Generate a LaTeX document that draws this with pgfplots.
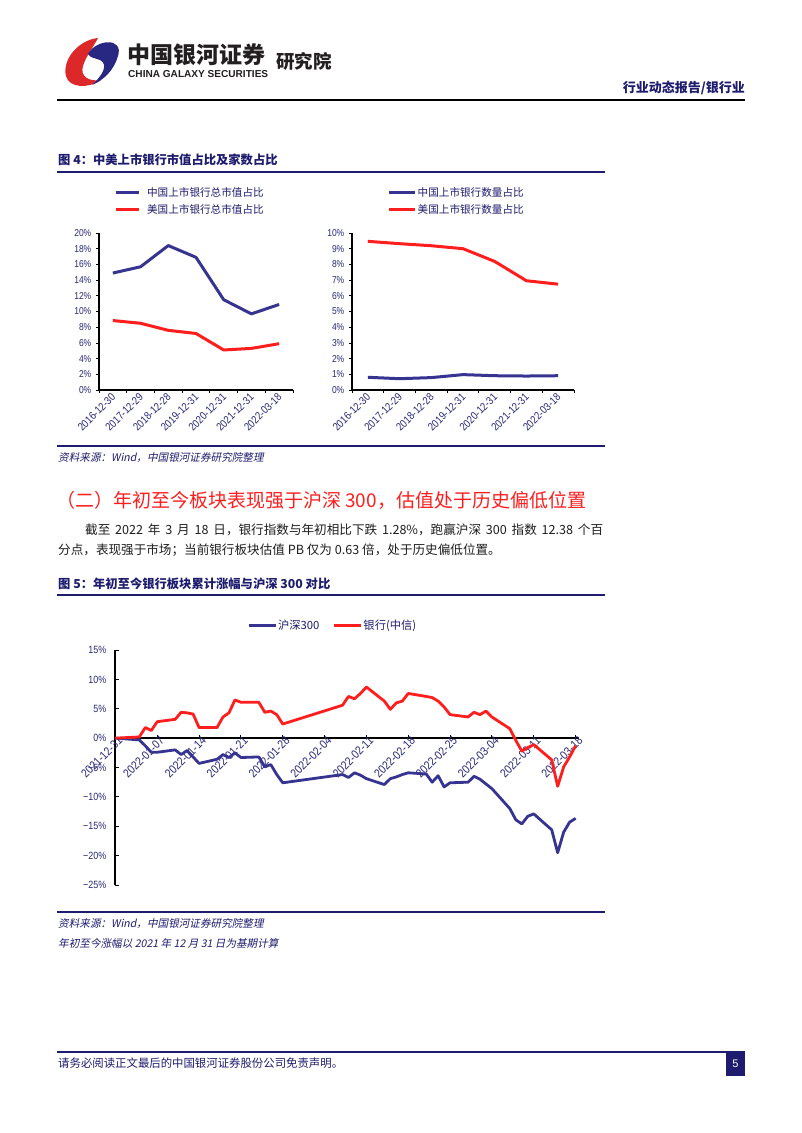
\documentclass[border=0pt]{standalone}
\usepackage{pgfplots}
\pgfplotsset{compat=1.18}
\usepackage{fontspec}
\setmainfont{Liberation Sans}
\newfontfamily\cjk{Noto Sans CJK SC}
\newfontfamily\cjkit[FakeSlant=0.2]{Noto Sans CJK SC}
\newfontfamily\tickfont[FakeStretch=0.85]{Liberation Sans}
\definecolor{navy}{RGB}{30,28,110}
\definecolor{sblue}{RGB}{55,52,145}
\definecolor{sred}{RGB}{255,30,30}
\definecolor{ticktxt}{RGB}{40,40,120}
\definecolor{logored}{RGB}{220,40,40}
\definecolor{logoblue}{RGB}{40,40,130}

\pgfplotstableread{
d v
0 0
4 0.2
5 1.8
6 1.3
7 2.8
10 3.2
11 4.4
12 4.3
13 4.1
14 1.8
17 1.8
18 3.6
19 4.3
20 6.5
21 6.1
24 6.1
25 4.4
26 4.6
27 4.0
28 2.4
38 5.6
39 7.1
40 6.7
41 7.6
42 8.7
45 6.3
46 4.9
47 6.0
48 6.3
49 7.6
52 7.1
53 6.9
54 6.3
55 5.3
56 4.0
59 3.6
60 4.4
61 4.0
62 4.6
63 3.6
66 1.6
67 -0.4
68 -2.2
69 -1.6
70 -1.1
73 -3.7
74 -8.2
75 -4.9
76 -3.2
77 -1.28
}\bankdata

\pgfplotstableread{
d v
0 0
4 -0.3
5 -1.3
6 -2.4
7 -2.4
10 -2.0
11 -2.8
12 -2.1
13 -3.2
14 -4.3
17 -3.6
18 -2.8
19 -3.3
20 -2.5
21 -3.3
24 -3.2
25 -4.9
26 -4.5
27 -6.2
28 -7.6
38 -6.2
39 -6.7
40 -5.9
41 -6.3
42 -6.9
45 -7.9
46 -6.9
47 -6.6
48 -6.2
49 -5.9
52 -6.1
53 -7.5
54 -6.4
55 -8.3
56 -7.6
59 -7.5
60 -6.5
61 -7.0
62 -7.8
63 -8.6
66 -12.0
67 -13.9
68 -14.6
69 -13.3
70 -12.9
73 -15.6
74 -19.5
75 -16.0
76 -14.3
77 -13.66
}\hsdata

\begin{document}
\begin{tikzpicture}[x=1pt,y=1pt]
\fill[white] (0,0) rectangle (802,-1133);
\useasboundingbox (0,0) rectangle (802,-1133);

% ---------- header ----------
\fill[logored] (98,-38) .. controls (78,-40) and (62,-60) .. (66,-76)
  .. controls (69,-88) and (88,-89) .. (101,-80)
  .. controls (88,-82) and (80,-76) .. (83,-66)
  .. controls (86,-56) and (94,-46) .. (98,-38) -- cycle;
\fill[logoblue] (88,-54) .. controls (96,-39) and (124,-37) .. (118,-56)
  .. controls (114,-70) and (104,-80) .. (92,-85)
  .. controls (104,-74) and (108,-64) .. (100,-60)
  .. controls (95,-58) and (90,-58) .. (88,-54) -- cycle;
\node[anchor=west, inner sep=0, text={rgb,255:red,35;green,31;blue,32}, font={\cjk\bfseries\fontsize{23}{26}\selectfont}] at (127,-55) {中国银河证券};
\node[anchor=west, inner sep=0, text={rgb,255:red,35;green,31;blue,32}] at (128,-74) {\resizebox{140pt}{!}{\bfseries CHINA GALAXY SECURITIES}};
\node[anchor=west, inner sep=0, text={rgb,255:red,35;green,31;blue,32}, font={\cjk\bfseries\fontsize{18.5}{20}\selectfont}] at (276,-61) {研究院};
\node[anchor=east, inner sep=0, text=navy, font={\cjk\bfseries\fontsize{13}{15}\selectfont}] at (745,-88) {行业动态报告/银行业};
\draw[line width=1.3pt, black] (57,-100) -- (745,-100);

% ---------- figure 4 ----------
\node[anchor=west, inner sep=0, text=navy, font={\cjk\bfseries\fontsize{12.3}{14}\selectfont}] at (58,-160) {图 4：中美上市银行市值占比及家数占比};
\draw[line width=2.2pt, navy] (57,-172) -- (605,-172);

\begin{axis}[
  at={(99pt,-390pt)}, anchor=south west, scale only axis,
  width=194pt, height=157pt,
  xmin=-0.5, xmax=6.5, ymin=0, ymax=20,
  axis x line=bottom, axis y line=left,
  axis line style={-, line width=1.1pt, black},
  tick align=outside,
  xtick={0,...,6},
  xticklabels={2016-12-30,2017-12-29,2018-12-28,2019-12-31,2020-12-31,2021-12-31,2022-03-18},
  minor xtick={-0.5,0.5,...,6.5},
  major x tick style={draw=none},
  minor x tick style={black, line width=0.8pt},
  minor tick length=3pt, major tick length=3pt,
  y tick style={black, line width=0.8pt},
  ytick={0,2,...,20},
  yticklabels={0\%,2\%,4\%,6\%,8\%,10\%,12\%,14\%,16\%,18\%,20\%},
  ticklabel style={font={\tickfont\fontsize{10}{11}\selectfont}, text=ticktxt},
  xticklabel style={font={\tickfont\fontsize{11}{12}\selectfont}, rotate=45, anchor=east, inner sep=1pt, yshift=-2pt},
  yticklabel style={inner sep=1.5pt, xshift=-3pt},
  legend style={at={(0.077,1.30)}, anchor=north west, draw=none, fill=none,
    font={\cjk\fontsize{10.6}{12}\selectfont}, text=navy, row sep=4.5pt,
    inner sep=0pt, nodes={inner sep=1pt}},
  legend cell align=left,
  legend image code/.code={\draw[#1, line width=3pt] (0pt,0pt) -- (23pt,0pt);},
  clip=false,
]
\addplot[sblue, line width=3pt, line join=round] coordinates {(0,14.9) (1,15.7) (2,18.4) (3,16.9) (4,11.5) (5,9.7) (6,10.9)};
\addlegendentry{\hspace{6pt}中国上市银行总市值占比}
\addplot[sred, line width=3pt, line join=round] coordinates {(0,8.85) (1,8.5) (2,7.6) (3,7.2) (4,5.1) (5,5.3) (6,5.9)};
\addlegendentry{\hspace{6pt}美国上市银行总市值占比}
\end{axis}

\begin{axis}[
  at={(352pt,-390pt)}, anchor=south west, scale only axis,
  width=222pt, height=157pt,
  xmin=-0.5, xmax=6.5, ymin=0, ymax=10,
  axis x line=bottom, axis y line=left,
  axis line style={-, line width=1.1pt, black},
  tick align=outside,
  xtick={0,...,6},
  xticklabels={2016-12-30,2017-12-29,2018-12-28,2019-12-31,2020-12-31,2021-12-31,2022-03-18},
  minor xtick={-0.5,0.5,...,6.5},
  major x tick style={draw=none},
  minor x tick style={black, line width=0.8pt},
  minor tick length=3pt, major tick length=3pt,
  y tick style={black, line width=0.8pt},
  ytick={0,1,...,10},
  yticklabels={0\%,1\%,2\%,3\%,4\%,5\%,6\%,7\%,8\%,9\%,10\%},
  ticklabel style={font={\tickfont\fontsize{10}{11}\selectfont}, text=ticktxt},
  xticklabel style={font={\tickfont\fontsize{11}{12}\selectfont}, rotate=45, anchor=east, inner sep=1pt, yshift=-2pt},
  yticklabel style={inner sep=1.5pt, xshift=-3pt},
  legend style={at={(0.16,1.30)}, anchor=north west, draw=none, fill=none,
    font={\cjk\fontsize{10.6}{12}\selectfont}, text=navy, row sep=4.5pt,
    inner sep=0pt, nodes={inner sep=1pt}},
  legend cell align=left,
  legend image code/.code={\draw[#1, line width=3pt] (0pt,0pt) -- (26pt,0pt);},
  clip=false,
]
\addplot[sblue, line width=3pt, line join=round] coordinates {(0,0.81) (1,0.72) (2,0.79) (3,0.98) (4,0.91) (5,0.89) (6,0.91)};
\addlegendentry{中国上市银行数量占比}
\addplot[sred, line width=3pt, line join=round] coordinates {(0,9.47) (1,9.32) (2,9.19) (3,9.0) (4,8.19) (5,6.96) (6,6.74)};
\addlegendentry{美国上市银行数量占比}
\end{axis}

\draw[line width=2.2pt, navy] (57,-446) -- (605,-446);
\node[anchor=west, inner sep=0, text=navy, font={\cjkit\fontsize{10.6}{12}\selectfont}] at (58,-458) {资料来源：Wind，中国银河证券研究院整理};

% ---------- section text ----------
\node[anchor=west, inner sep=0, text=sred, font={\cjk\fontsize{19}{22}\selectfont}] at (56,-500) {（二）年初至今板块表现强于沪深 300，估值处于历史偏低位置};
\node[anchor=west, inner sep=0, text={rgb,255:red,30;green,30;blue,30}, font={\cjk\fontsize{12.6}{15}\selectfont}] at (85,-530) {\makebox[518pt][s]{截至 2022 年 3 月 18 日，银行指数与年初相比下跌 1.28\%，跑赢沪深 300 指数 12.38 个百}};
\node[anchor=west, inner sep=0, text={rgb,255:red,30;green,30;blue,30}, font={\cjk\fontsize{12.6}{15}\selectfont}] at (58,-550) {分点，表现强于市场；当前银行板块估值 PB 仅为 0.63 倍，处于历史偏低位置。};

% ---------- figure 5 ----------
\node[anchor=west, inner sep=0, text=navy, font={\cjk\bfseries\fontsize{12.3}{14}\selectfont}] at (58,-584) {图 5：年初至今银行板块累计涨幅与沪深 300 对比};
\draw[line width=2.2pt, navy] (57,-595) -- (605,-595);

\begin{axis}[
  at={(115.4pt,-885pt)}, anchor=south west, scale only axis,
  width=463.2pt, height=235pt,
  xmin=0, xmax=77.5, ymin=-25, ymax=15,
  axis x line=middle, axis y line=left,
  hide obscured x ticks=false, hide obscured y ticks=false,
  x axis line style={-, line width=1.5pt, black},
  y axis line style={-, line width=2pt, black},
  tick align=inside,
  major tick length=3.5pt,
  tick style={black, line width=0.9pt},
  xtick={0,7,...,77},
  xticklabels={2021-12-31,2022-01-07,2022-01-14,2022-01-21,2022-01-28,2022-02-04,2022-02-11,2022-02-18,2022-02-25,2022-03-04,2022-03-11,2022-03-18},
  ytick={-25,-20,...,15},
  yticklabels={−25\%,−20\%,−15\%,−10\%,−5\%,0\%,5\%,10\%,15\%},
  ticklabel style={font={\tickfont\fontsize{10.5}{11}\selectfont}, text=ticktxt},
  xticklabel style={font={\tickfont\fontsize{12}{13}\selectfont}, rotate=45, anchor=east, inner sep=1pt, xshift=4pt, yshift=-4pt},
  yticklabel style={inner sep=2pt, xshift=-7pt},
  legend style={at={(0.468,1.106)}, anchor=center, draw=none, fill=none,
    font={\cjk\fontsize{11.3}{13}\selectfont}, text=navy,
    inner sep=0pt, nodes={inner sep=1pt}, /tikz/every even column/.append style={column sep=12pt}},
  legend columns=2,
  legend image code/.code={\draw[#1, line width=3pt] (0pt,0pt) -- (27pt,0pt);},
  clip=false,
]
\addplot[sblue, line width=2.8pt, line join=round] table[x=d, y=v] {\hsdata};
\addlegendentry{沪深300}
\addplot[sred, line width=2.8pt, line join=round] table[x=d, y=v] {\bankdata};
\addlegendentry{银行(中信)}
\end{axis}

\draw[line width=2.2pt, navy] (57,-912) -- (605,-912);
\node[anchor=west, inner sep=0, text=navy, font={\cjkit\fontsize{10.6}{12}\selectfont}] at (58,-924) {资料来源：Wind，中国银河证券研究院整理};
\node[anchor=west, inner sep=0, text=navy, font={\cjkit\fontsize{10.6}{12}\selectfont}] at (58,-943) {年初至今涨幅以 2021 年 12 月 31 日为基期计算};

% ---------- footer ----------
\draw[line width=1.3pt, navy] (57,-1052) -- (745,-1052);
\node[anchor=west, inner sep=0, text=navy, font={\cjk\fontsize{11.4}{13}\selectfont}] at (58,-1063) {请务必阅读正文最后的中国银河证券股份公司免责声明。};
\fill[navy] (726,-1052) rectangle (745,-1076);
\node[text=white, inner sep=0, font={\fontsize{11}{12}\selectfont}] at (735.5,-1064) {5};
\end{tikzpicture}
\end{document}
